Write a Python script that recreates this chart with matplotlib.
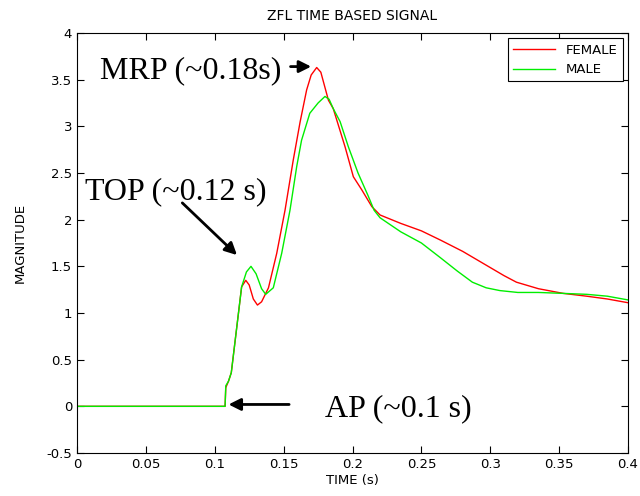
import matplotlib
matplotlib.use('Agg')
import matplotlib.pyplot as plt

# time (s) and magnitude
female_t = [0, 0.1075, 0.108, 0.110, 0.112, 0.116, 0.1195, 0.1225, 0.125, 0.128, 0.131, 0.134,
            0.139, 0.145, 0.151, 0.157, 0.162, 0.1667, 0.170, 0.174, 0.177,
            0.1825, 0.186, 0.1946, 0.2006, 0.2067, 0.214, 0.22, 0.235, 0.25, 0.264, 0.28,
            0.295, 0.31, 0.319, 0.335, 0.353, 0.37, 0.385, 0.4]
female_y = [0, 0, 0.2, 0.27, 0.36, 0.85, 1.28, 1.35, 1.3, 1.15, 1.085, 1.12,
            1.27, 1.64, 2.10, 2.64, 3.05, 3.39, 3.55, 3.63, 3.58,
            3.28, 3.19, 2.78, 2.46, 2.32, 2.14, 2.05, 1.96, 1.88, 1.78, 1.66,
            1.53, 1.4, 1.33, 1.26, 1.21, 1.18, 1.15, 1.11]

male_t = [0, 0.1075, 0.108, 0.110, 0.112, 0.116, 0.1195, 0.123, 0.1263, 0.13, 0.134, 0.137,
          0.1425, 0.1486, 0.1546, 0.1595, 0.163, 0.169, 0.175, 0.18, 0.183,
          0.186, 0.191, 0.197, 0.204, 0.2115, 0.2157, 0.22, 0.235, 0.25, 0.264, 0.276,
          0.287, 0.297, 0.307, 0.32, 0.335, 0.353, 0.37, 0.385, 0.4]
male_y = [0, 0, 0.22, 0.27, 0.36, 0.85, 1.28, 1.44, 1.5, 1.42, 1.26, 1.2,
          1.27, 1.64, 2.1, 2.57, 2.85, 3.14, 3.25, 3.32, 3.29,
          3.19, 3.05, 2.78, 2.5, 2.25, 2.1, 2.02, 1.87, 1.75, 1.59, 1.45,
          1.33, 1.27, 1.24, 1.22, 1.22, 1.21, 1.2, 1.18, 1.14]

fig = plt.figure(figsize=(6.4, 4.96), dpi=100)
ax = fig.add_axes([0.1203, 0.0867, 0.861, 0.8468])

ax.plot(female_t, female_y, color='#ff0000', lw=1, label='FEMALE')
ax.plot(male_t, male_y, color='#00ee00', lw=1, label='MALE')

ax.set_xlim(0, 0.4)
ax.set_ylim(-0.5, 4)
ax.set_xticks([0, 0.05, 0.1, 0.15, 0.2, 0.25, 0.3, 0.35, 0.4])
ax.set_xticklabels(['0', '0.05', '0.1', '0.15', '0.2', '0.25', '0.3', '0.35', '0.4'])
ax.set_yticks([-0.5, 0, 0.5, 1, 1.5, 2, 2.5, 3, 3.5, 4])
ax.set_yticklabels(['-0.5', '0', '0.5', '1', '1.5', '2', '2.5', '3', '3.5', '4'])
ax.tick_params(direction='in', top=True, right=True, labelsize=9.5, length=5)
ax.set_xlabel('TIME (s)', fontsize=9.5, labelpad=2)
ax.set_ylabel('MAGNITUDE', fontsize=9.5, labelpad=14)
ax.set_title('ZFL TIME BASED SIGNAL', fontsize=10, pad=9)
for s in ax.spines.values():
    s.set_linewidth(0.8)

leg = ax.legend(loc='upper right', fontsize=9.5, fancybox=False, framealpha=1,
                edgecolor='black', borderaxespad=0.4, handlelength=3.2)
leg.get_frame().set_linewidth(0.8)

serif = dict(family='Liberation Serif', fontsize=23, color='black')
arrow = dict(arrowstyle='-|>', color='black', lw=2, mutation_scale=18)

ax.annotate('', xy=(0.172, 3.64), xytext=(0.153, 3.64), arrowprops=arrow)
ax.text(0.017, 3.6, 'MRP (~0.18s)', va='center', **serif)

ax.annotate('', xy=(0.1176, 1.6), xytext=(0.075, 2.2), arrowprops=arrow)
ax.text(0.006, 2.3, 'TOP (~0.12 s)', va='center', **serif)

ax.annotate('', xy=(0.108, 0.02), xytext=(0.156, 0.02), arrowprops=arrow)
ax.text(0.18, -0.03, 'AP (~0.1 s)', va='center', **serif)

fig.savefig('out.png', dpi=100)
